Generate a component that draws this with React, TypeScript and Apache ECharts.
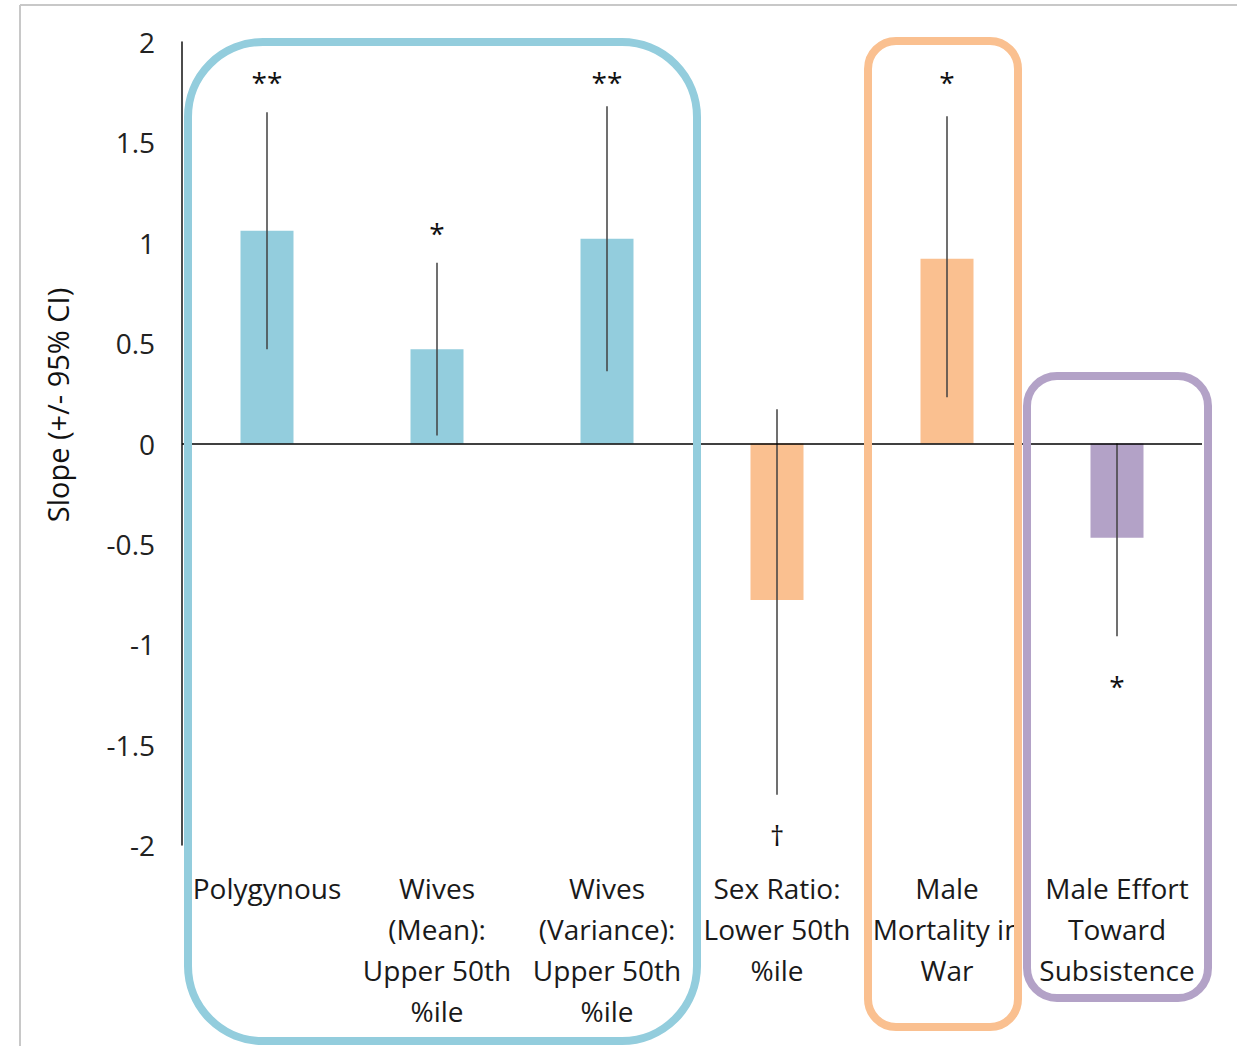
import React, { useEffect, useRef } from "react";
import * as echarts from "echarts";

const categories = [
  "Polygynous",
  "Wives\n(Mean):\nUpper 50th\n%ile",
  "Wives\n(Variance):\nUpper 50th\n%ile",
  "Sex Ratio:\nLower 50th\n%ile",
  "Male\nMortality in\nWar",
  "Male Effort\nToward\nSubsistence",
];
const slopes = [1.06, 0.47, 1.02, -0.78, 0.92, -0.47];
const ciLow = [0.47, 0.04, 0.36, -1.75, 0.23, -0.96];
const ciHigh = [1.65, 0.9, 1.68, 0.17, 1.63, 0.0];
const annotations = ["**", "*", "**", "†", "*", "*"];
const annotationY = [1.8, 1.05, 1.8, -1.95, 1.8, -1.21];
const yTicks = { min: -2, max: 2, interval: 0.5 };
const yTitle = "Slope (+/- 95% CI)";

const BLUE = "#93cddd";
const ORANGE = "#fac090";
const PURPLE = "#b3a2c7";
const barColors = [BLUE, BLUE, BLUE, ORANGE, ORANGE, PURPLE];
const FONT = "'Open Sans', sans-serif";

export default function App() {
  const ref = useRef<HTMLDivElement>(null);
  useEffect(() => {
    if (!ref.current) return;
    const chart = echarts.init(ref.current, null, { renderer: "svg" });
    const option: any = {
      animation: false,
      backgroundColor: "#ffffff",
      grid: { left: 182, right: 49, top: 42, bottom: 201, containLabel: false },
      xAxis: {
        type: "category",
        data: categories,
        axisLine: { show: false, onZero: false },
        axisTick: { show: false },
        splitLine: { show: false },
        axisLabel: {
          interval: 0,
          fontSize: 28,
          fontFamily: FONT,
          color: "#1a1a1a",
          lineHeight: 41,
          margin: 22,
        },
      },
      yAxis: {
        type: "value",
        min: yTicks.min,
        max: yTicks.max,
        interval: yTicks.interval,
        axisLine: { show: true, lineStyle: { color: "#111", width: 1.5 } },
        axisTick: { show: false },
        splitLine: { show: false },
        axisLabel: {
          fontSize: 28,
          fontFamily: FONT,
          color: "#222",
          margin: 27,
        },
      },
      series: [
        {
          type: "bar",
          data: slopes.map((v, i) => ({ value: v, itemStyle: { color: barColors[i] } })),
          barWidth: 53,
          z: 2,
          markLine: {
            silent: true,
            symbol: "none",
            label: { show: false },
            lineStyle: { color: "#000", width: 1.5, type: "solid" },
            data: [{ yAxis: 0 }],
          },
        },
        {
          type: "custom",
          z: 3,
          data: categories.map((_, i) => [i, ciLow[i], ciHigh[i]]),
          encode: { x: 0, y: [1, 2] },
          renderItem: (params: any, api: any) => {
            const i = api.value(0);
            const p1 = api.coord([i, api.value(1)]);
            const p2 = api.coord([i, api.value(2)]);
            return {
              type: "line",
              shape: { x1: p1[0], y1: p1[1], x2: p2[0], y2: p2[1] },
              style: { stroke: "#404040", lineWidth: 1.5 },
            };
          },
        },
        {
          type: "custom",
          z: 4,
          data: categories.map((_, i) => [i, annotationY[i]]),
          encode: { x: 0, y: 1 },
          renderItem: (params: any, api: any) => {
            const idx = params.dataIndex;
            const pos = api.coord([api.value(0), api.value(1)]);
            return {
              type: "text",
              x: pos[0],
              y: pos[1],
              style: {
                text: annotations[idx],
                fontSize: 28,
                fontFamily: FONT,
                fill: "#111",
                align: "center",
                verticalAlign: "middle",
              },
            };
          },
        },
      ],
      graphic: [
        {
          type: "line",
          z: 100,
          shape: { x1: 20, y1: 5, x2: 1237, y2: 5 },
          style: { stroke: "#c8c8c8", lineWidth: 2 },
        },
        {
          type: "line",
          z: 100,
          shape: { x1: 20, y1: 5, x2: 20, y2: 1046 },
          style: { stroke: "#c8c8c8", lineWidth: 2 },
        },
        {
          type: "rect",
          z: 100,
          shape: { x: 188, y: 42, width: 509, height: 999, r: 75 },
          style: { fill: "none", stroke: BLUE, lineWidth: 8 },
        },
        {
          type: "rect",
          z: 100,
          shape: { x: 868, y: 41, width: 150, height: 986, r: 28 },
          style: { fill: "none", stroke: ORANGE, lineWidth: 8 },
        },
        {
          type: "rect",
          z: 100,
          shape: { x: 1027, y: 376, width: 181, height: 622, r: 30 },
          style: { fill: "none", stroke: PURPLE, lineWidth: 8 },
        },
        {
          type: "text",
          z: 100,
          x: 57,
          y: 405,
          rotation: Math.PI / 2,
          style: {
            text: yTitle,
            fontSize: 29,
            fontFamily: FONT,
            fill: "#111",
            align: "center",
            verticalAlign: "middle",
          },
        },
      ],
    };
    chart.setOption(option);
    return () => chart.dispose();
  }, []);
  return (
    <div
      ref={ref}
      style={{ position: "absolute", left: 0, top: 0, width: 1251, height: 1046 }}
    />
  );
}
